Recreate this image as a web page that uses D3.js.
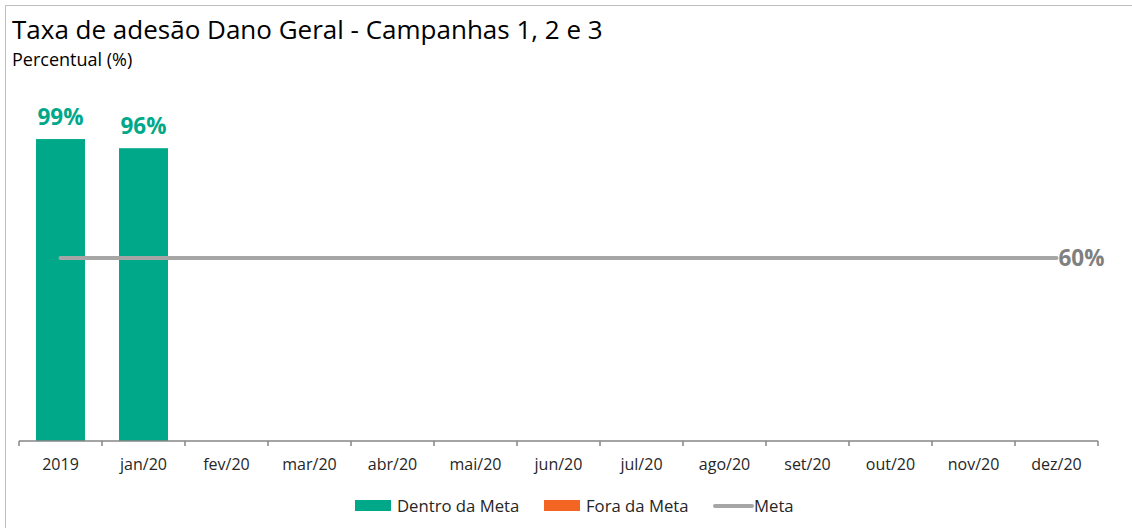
<!DOCTYPE html>
<html>
<head>
<meta charset="utf-8">
<script src="https://cdn.jsdelivr.net/npm/d3@7"></script>
<style>
  body { margin: 0; background: #fff; }
  svg { display: block; font-family: "Open Sans", "Noto Sans", sans-serif; }
</style>
</head>
<body>
<div id="chart"></div>
<script>
// Chart data
const categories = ['2019', 'jan/20', 'fev/20', 'mar/20', 'abr/20', 'mai/20', 'jun/20',
                    'jul/20', 'ago/20', 'set/20', 'out/20', 'nov/20', 'dez/20'];
const dentroDaMeta = [0.99, 0.96, null, null, null, null, null, null, null, null, null, null, null];
const foraDaMeta = [null, null, null, null, null, null, null, null, null, null, null, null, null];
const meta = [0.6, 0.6, 0.6, 0.6, 0.6, 0.6, 0.6, 0.6, 0.6, 0.6, 0.6, 0.6, 0.6];
const seriesNames = ['Dentro da Meta', 'Fora da Meta', 'Meta'];

const width = 1132, height = 528;
const colors = { dentro: '#00A88A', fora: '#F26522', meta: '#A6A6A6' };

const svg = d3.select('#chart').append('svg')
    .attr('width', width).attr('height', height);

// frame (only left and top edges are visible in the crop)
svg.append('rect')
    .attr('x', 5.5).attr('y', 5.5)
    .attr('width', width + 10).attr('height', height + 10)
    .attr('fill', 'none').attr('stroke', '#BFBFBF').attr('stroke-width', 1);

svg.append('text')
    .attr('x', 12).attr('y', 39)
    .attr('font-size', 26).attr('fill', '#000')
    .text('Taxa de adesão Dano Geral - Campanhas 1, 2 e 3');
svg.append('text')
    .attr('x', 12).attr('y', 66)
    .attr('font-size', 18).attr('fill', '#000')
    .text('Percentual (%)');

// scales
const x = d3.scaleBand().domain(categories).range([19, 1098]).paddingInner(0.41).paddingOuter(0.205);
const y = d3.scaleLinear().domain([0, 1]).range([441, 136]);

const g = svg.append('g');

// bars
const rows = categories.map((c, i) => ({ cat: c, dentro: dentroDaMeta[i], fora: foraDaMeta[i], meta: meta[i] }));

g.selectAll('rect.dentro')
    .data(rows.filter(d => d.dentro != null))
    .join('rect')
    .classed('dentro', true)
    .attr('x', d => x(d.cat))
    .attr('width', x.bandwidth())
    .attr('y', d => y(d.dentro))
    .attr('height', d => y(0) - y(d.dentro))
    .attr('fill', colors.dentro);

g.selectAll('rect.fora')
    .data(rows.filter(d => d.fora != null))
    .join('rect')
    .classed('fora', true)
    .attr('x', d => x(d.cat))
    .attr('width', x.bandwidth())
    .attr('y', d => y(d.fora))
    .attr('height', d => y(0) - y(d.fora))
    .attr('fill', colors.fora);

g.selectAll('text.lbl')
    .data(rows.filter(d => d.dentro != null))
    .join('text')
    .classed('lbl', true)
    .attr('x', d => x(d.cat) + x.bandwidth() / 2)
    .attr('y', d => y(d.dentro) - 14)
    .attr('text-anchor', 'middle')
    .attr('font-size', 22.5).attr('font-weight', 'bold')
    .attr('fill', colors.dentro)
    .text(d => d3.format('.0%')(d.dentro));

// meta line
const cx = d => x(d.cat) + x.bandwidth() / 2;
g.append('path')
    .datum(rows)
    .attr('d', d3.line().x(cx).y(d => y(d.meta)))
    .attr('fill', 'none')
    .attr('stroke', colors.meta).attr('stroke-width', 4)
    .attr('stroke-linecap', 'round');

const last = rows[rows.length - 1];
g.append('text')
    .attr('x', cx(last) + 2).attr('y', y(last.meta))
    .attr('dy', '0.35em')
    .attr('font-size', 22.5).attr('font-weight', 'bold')
    .attr('fill', '#808080')
    .text(d3.format('.0%')(last.meta));

// x axis
const axis = svg.append('g')
    .attr('transform', `translate(0,${y(0)})`);
axis.append('line')
    .attr('x1', 19).attr('x2', 1098)
    .attr('stroke', '#868686').attr('stroke-width', 1.5);
const step = x.step();
axis.selectAll('line.tick')
    .data(d3.range(categories.length + 1))
    .join('line')
    .classed('tick', true)
    .attr('x1', i => 19 + i * step).attr('x2', i => 19 + i * step)
    .attr('y1', 0).attr('y2', 5)
    .attr('stroke', '#868686').attr('stroke-width', 1.5);
axis.selectAll('text')
    .data(categories)
    .join('text')
    .attr('x', d => x(d) + x.bandwidth() / 2)
    .attr('y', 29)
    .attr('text-anchor', 'middle')
    .attr('font-size', 16).attr('fill', '#262626')
    .text(d => d);

// legend
const legend = svg.append('g').attr('transform', 'translate(355,506)');
const legendX = [0, 189, 358];
seriesNames.forEach((name, i) => {
    const lg = legend.append('g').attr('transform', `translate(${legendX[i]},0)`);
    if (i < 2) {
        lg.append('rect').attr('x', 0).attr('y', -6).attr('width', 36).attr('height', 11)
            .attr('fill', i === 0 ? colors.dentro : colors.fora);
        lg.append('text').attr('x', 42).attr('y', 0).attr('dy', '0.35em')
            .attr('font-size', 16.7).attr('fill', '#262626').text(name);
    } else {
        lg.append('line').attr('x1', 2).attr('x2', 39).attr('y1', 0).attr('y2', 0)
            .attr('stroke', colors.meta).attr('stroke-width', 4).attr('stroke-linecap', 'round');
        lg.append('text').attr('x', 41).attr('y', 0).attr('dy', '0.35em')
            .attr('font-size', 16.7).attr('fill', '#262626').text(name);
    }
});
</script>
</body>
</html>
